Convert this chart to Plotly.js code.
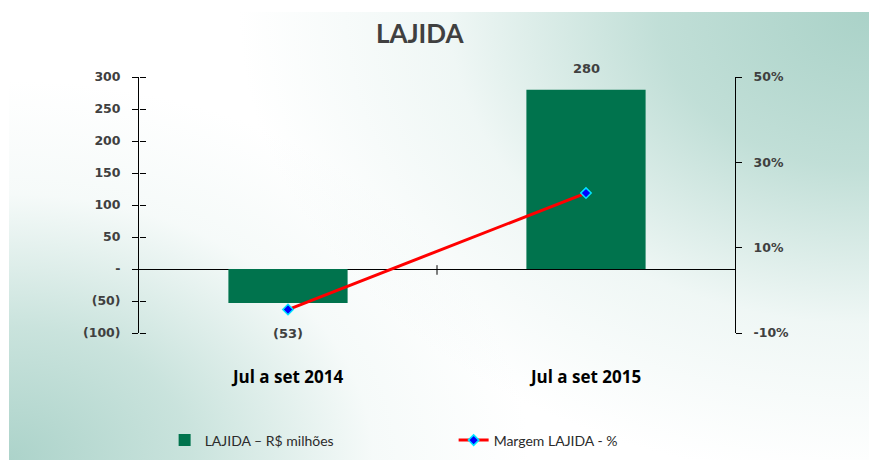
<!DOCTYPE html>
<html>
<head>
<meta charset="utf-8">
<script src="https://cdn.plot.ly/plotly-3.0.1.min.js"></script>
<style>
  html, body { margin: 0; padding: 0; background: #ffffff; }
  #wrap { position: relative; width: 869px; height: 463px; background: #ffffff; overflow: hidden; }
  #bg { position: absolute; left: 9px; top: 12px; width: 860px; height: 448px;
    background:
      radial-gradient(ellipse 700px 520px at 100% 0%, rgba(170,210,200,1) 0%, rgba(182,217,208,0.85) 30%, rgba(220,237,233,0.45) 60%, rgba(255,255,255,0) 90%),
      radial-gradient(ellipse 520px 380px at 0% 100%, rgba(172,211,202,1) 0%, rgba(188,220,212,0.8) 35%, rgba(228,241,238,0.35) 70%, rgba(255,255,255,0) 100%),
      #ffffff; }
  #chart { position: absolute; left: 0; top: 0; width: 869px; height: 463px; }
</style>
</head>
<body>
<div id="wrap"><div id="bg"></div><div id="chart"></div></div>
<script>
// ---- data ----
var categories = ["Jul a set 2014", "Jul a set 2015"];
var lajida = [-53, 280];               // R$ milhões
var margem = [-0.045, 0.228];          // Margem LAJIDA (fraction)
var leftTicks = [-100, -50, 0, 50, 100, 150, 200, 250, 300];
var rightTicks = [-0.1, 0.1, 0.3, 0.5];
var rightTickText = ["-10%", "10%", "30%", "50%"];
var seriesNames = ["LAJIDA \u2013 R$ milh\u00f5es", "Margem LAJIDA - %"];

function fmtNum(v) {
  if (v === 0) return "-";
  return v < 0 ? "(" + Math.abs(v) + ")" : String(v);
}

var labelFont = { family: "DejaVu Sans", size: 12.5, color: "#404040", weight: "bold" };

var traces = [
  {
    type: "bar", x: categories, y: lajida, name: seriesNames[0],
    marker: { color: "#00734d" }, width: 0.4, yaxis: "y", hoverinfo: "skip"
  },
  {
    type: "scatter", mode: "lines+markers", x: categories, y: margem, name: seriesNames[1],
    yaxis: "y2",
    line: { color: "#ff0000", width: 3 },
    marker: { symbol: "diamond", size: 8, color: "#0000ff", line: { color: "#00e5ff", width: 1.5 } },
    hoverinfo: "skip"
  },
  // invisible helper so the overlaid left axis (inner half of the crossing ticks) is drawn
  { type: "scatter", mode: "markers", x: categories, y: lajida, yaxis: "y3",
    marker: { opacity: 0 }, showlegend: false, hoverinfo: "skip" }
];

var annotations = lajida.map(function (v, i) {
  return {
    x: categories[i], y: v, xref: "x", yref: "y",
    text: fmtNum(v), showarrow: false,
    yanchor: v >= 0 ? "bottom" : "top",
    yshift: v >= 0 ? 12 : -21,
    font: { family: "DejaVu Sans", size: 13, color: "#404040", weight: "bold" }
  };
});

var layout = {
  width: 869, height: 463,
  margin: { l: 139, r: 134, t: 77, b: 130, autoexpand: false },
  paper_bgcolor: "rgba(0,0,0,0)",
  plot_bgcolor: "rgba(0,0,0,0)",
  title: {
    text: "LAJIDA", x: 0.483, xanchor: "center", y: 0.926, yanchor: "middle",
    font: { family: "Lato", size: 26, color: "#404040", weight: "bold" }
  },
  showlegend: true,
  legend: {
    orientation: "h", x: 0.043, xanchor: "left", y: -0.42, yanchor: "middle",
    entrywidth: 244, bgcolor: "rgba(0,0,0,0)",
    font: { family: "Lato", size: 14, color: "#2b2b2b" }
  },
  xaxis: {
    type: "category", range: [-0.5, 1.5], showline: false, ticks: "", showgrid: false,
    zeroline: false, ticklabelstandoff: 32,
    tickfont: { family: "Open Sans", size: 17, color: "#000000", weight: "bold" }
  },
  yaxis: {
    range: [-100, 300], tickvals: leftTicks, ticktext: leftTicks.map(fmtNum),
    showline: true, linecolor: "#000000", linewidth: 1,
    ticks: "outside", ticklen: 6, tickcolor: "#000000", tickwidth: 1,
    showgrid: false, zeroline: true, zerolinecolor: "#000000", zerolinewidth: 1,
    ticklabelstandoff: 9, tickfont: labelFont
  },
  yaxis3: {
    range: [-100, 300], tickvals: leftTicks, overlaying: "y",
    side: "right", anchor: "free", position: 0,
    ticks: "outside", ticklen: 6, tickcolor: "#000000", tickwidth: 1,
    showticklabels: false, showline: false, showgrid: false, zeroline: false
  },
  yaxis2: {
    range: [-0.1, 0.5], tickvals: rightTicks, ticktext: rightTickText,
    overlaying: "y", side: "right",
    showline: true, linecolor: "#000000", linewidth: 1,
    ticks: "outside", ticklen: 6, tickcolor: "#000000", tickwidth: 1,
    showgrid: false, zeroline: false, ticklabelstandoff: 9, tickfont: labelFont
  },
  shapes: [
    { type: "line", xref: "x", yref: "y", x0: 0.5, x1: 0.5, y0: -9, y1: 6,
      line: { color: "#000000", width: 1 } }
  ],
  annotations: annotations
};

Plotly.newPlot("chart", traces, layout, { displayModeBar: false, staticPlot: true });
</script>
</body>
</html>
